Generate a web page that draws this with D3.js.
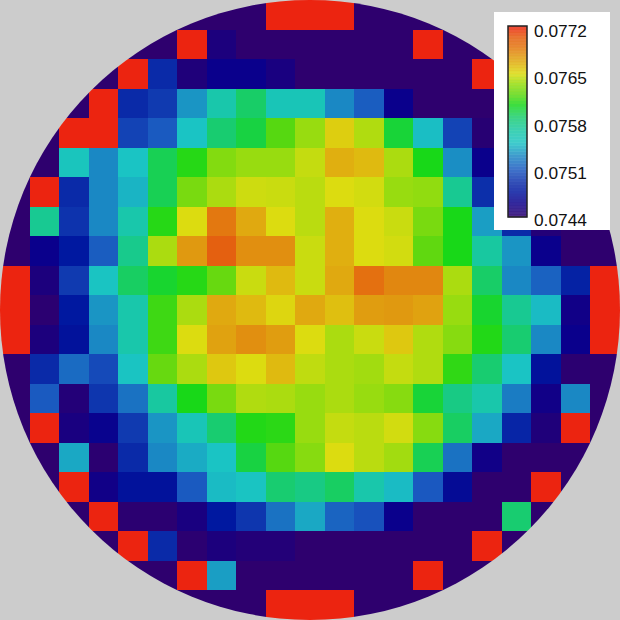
<!DOCTYPE html>
<html>
<head>
<meta charset="utf-8">
<script src="https://cdn.jsdelivr.net/npm/d3@7"></script>
<style>html,body{margin:0;padding:0;background:#ccc;overflow:hidden}svg{display:block}</style>
</head>
<body>
<div id="chart"></div>
<script>
// Cell values, in units of 1e-5 (7440 = 0.0744)
const P = 7440, R = 7720;
const row00 = [P,P,P,P,P,P,P,P,P,R,R,R,P,P,P,P,P,P,P,P,P];
const row01 = [P,P,P,P,P,P,R,7451,P,P,P,P,P,P,R,P,P,P,P,P,P];
const row02 = [P,P,P,P,R,7490,7449,7462,7462,7453,P,P,P,P,P,P,R,P,P,P,P];
const row03 = [P,P,P,R,7490,7497,7534,7563,7588,7556,7556,7530,7512,7462,P,P,P,P,P,P,P];
const row04 = [P,P,R,R,7501,7511,7549,7586,7596,7618,7636,7655,7641,7598,7547,7501,7444,P,P,P,P];
const row05 = [P,P,7553,7530,7549,7592,7608,7630,7636,7636,7645,7666,7662,7640,7605,7532,7462,P,P,P,P];
const row06 = [P,R,7490,7530,7544,7592,7627,7640,7647,7646,7643,7650,7648,7636,7634,7574,7492,P,P,P,P];
const row07 = [P,7574,7494,7530,7563,7608,7650,7689,7669,7650,7643,7666,7650,7646,7627,7605,7537,7490,7447,P,P];
const row08 = [P,7462,7479,7512,7576,7640,7676,7703,7680,7680,7646,7666,7650,7648,7620,7605,7569,7534,7462,P,P];
const row09 = [R,7451,7497,7550,7589,7600,7608,7622,7646,7662,7646,7669,7692,7683,7683,7640,7588,7530,7514,7485,R];
const row10 = [R,7442,7479,7534,7563,7613,7640,7669,7662,7652,7669,7660,7674,7676,7672,7636,7600,7574,7546,7458,R];
const row11 = [R,7451,7475,7530,7563,7613,7650,7672,7680,7674,7650,7640,7646,7657,7641,7631,7607,7586,7530,7462,R];
const row12 = [P,7490,7518,7504,7550,7622,7640,7657,7650,7662,7644,7640,7638,7645,7641,7610,7586,7549,7475,7442,P];
const row13 = [P,7511,7447,7495,7521,7569,7605,7627,7641,7640,7636,7640,7636,7631,7598,7579,7563,7525,7458,7530,P];
const row14 = [P,R,7453,7464,7497,7534,7556,7586,7607,7609,7636,7645,7643,7648,7631,7589,7540,7487,7449,R,P];
const row15 = [P,P,7540,7442,7490,7530,7541,7549,7596,7618,7631,7650,7643,7638,7592,7521,7458,P,P,P,P];
const row16 = [P,P,R,7458,7475,7475,7511,7546,7550,7586,7579,7589,7563,7546,7510,7470,P,P,R,P,P];
const row17 = [P,P,P,R,7442,7442,7453,7479,7495,7521,7540,7515,7507,7462,P,P,P,7586,P,P,P];
const row18 = [P,P,P,P,R,7490,7442,7451,7447,7447,P,P,P,P,P,P,R,P,P,P,P];
const row19 = [P,P,P,P,P,P,R,7537,P,P,P,P,P,P,R,P,P,P,P,P,P];
const row20 = [P,P,P,P,P,P,P,P,P,R,R,R,P,P,P,P,P,P,P,P,P];
const rows = [row00,row01,row02,row03,row04,row05,row06,row07,row08,row09,row10,
              row11,row12,row13,row14,row15,row16,row17,row18,row19,row20];

const tickLabels = ["0.0744","0.0751","0.0758","0.0765","0.0772"];
const stopValues = [7440,7462,7479,7490,7510,7530,7549,7569,7586,7605,7620,7636,7650,7664,7678,7692,7703,7720];
const stopColors = ["#2e006e","#0a008c","#0018a0","#0a2aa8","#1a58c0","#1a88c4","#1ac4c4","#18c8a0","#18cc70",
                    "#18d818","#60d810","#98dc10","#dcdc10","#e0b410","#e09410","#e47010","#e46010","#ec2410"];

const W = 620, H = 620;
const color = d3.scaleLinear().domain(stopValues).range(stopColors).interpolate(d3.interpolateRgb).clamp(true);
const x = d3.scaleBand().domain(d3.range(21)).range([0, W]);
const y = d3.scaleBand().domain(d3.range(21)).range([0, H]);

const svg = d3.select("#chart").append("svg").attr("width", W).attr("height", H);
svg.append("rect").attr("width", W).attr("height", H).attr("fill", "#cccccc");
svg.append("clipPath").attr("id", "wafer").append("circle").attr("cx", W/2).attr("cy", H/2).attr("r", 310);

svg.append("g").attr("clip-path", "url(#wafer)")
  .selectAll("g").data(rows).join("g")
  .attr("transform", (d, i) => `translate(0,${y(i)})`)
  .selectAll("rect").data(d => d).join("rect")
  .attr("x", (d, i) => x(i))
  .attr("width", x.bandwidth())
  .attr("height", y.bandwidth())
  .attr("shape-rendering", "crispEdges")
  .attr("fill", d => color(d));

// Legend
const lg = svg.append("g");
lg.append("rect").attr("x", 494).attr("y", 12).attr("width", 116).attr("height", 218).attr("fill", "#fff");
const barY = d3.scaleLinear().domain([7440, 7720]).range([217, 26]);
const bands = d3.range(64).map(i => 7440 + (i + 0.5) * 280 / 64);
lg.append("g").selectAll("rect").data(bands).join("rect")
  .attr("x", 508).attr("width", 19)
  .attr("y", d => barY(d + 280 / 128))
  .attr("height", 191 / 64 + 0.3)
  .attr("fill", d => color(d)).attr("fill-opacity", 0.84);
lg.append("rect").attr("x", 508).attr("y", 26).attr("width", 19).attr("height", 191)
  .attr("fill", "none").attr("stroke", "#222").attr("stroke-width", 1.5);
const tickY = d3.scalePoint().domain(tickLabels).range([226, 37]);
lg.selectAll("text").data(tickLabels).join("text")
  .attr("x", 534).attr("y", d => tickY(d))
  .attr("font-family", "'Liberation Sans', Arial, sans-serif")
  .attr("font-size", 17.3).attr("fill", "#111")
  .text(d => d);
</script>
</body>
</html>
